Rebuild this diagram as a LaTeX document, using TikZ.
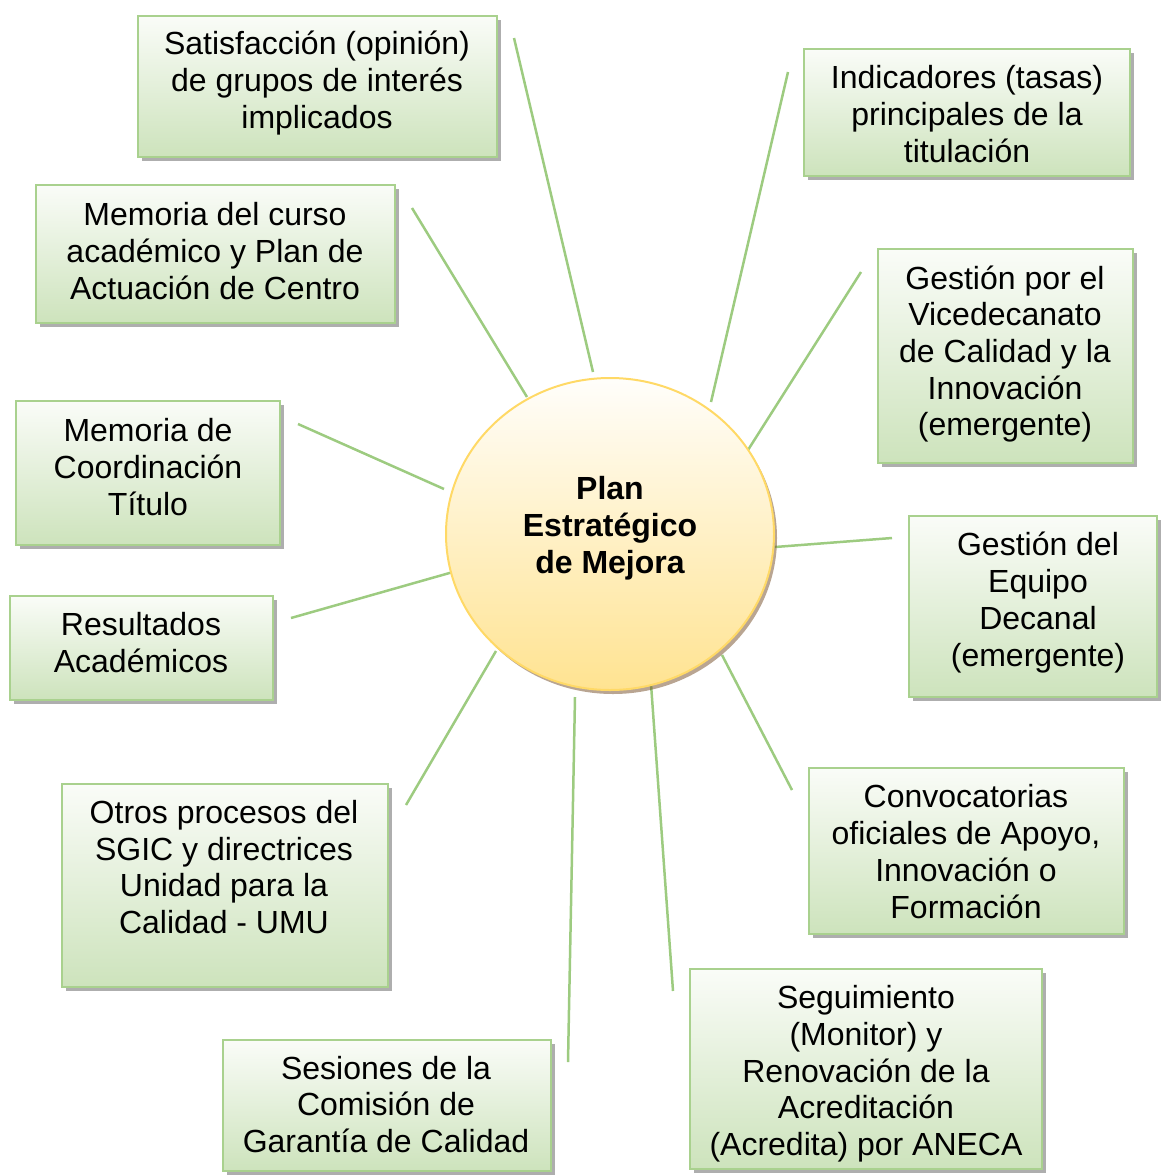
\documentclass[tikz,border=0pt]{standalone}
\usepackage{fontspec}
\setmainfont{Liberation Sans}
\usetikzlibrary{shadows,shapes.geometric}
\definecolor{boxborder}{HTML}{A9D18E}
\definecolor{boxbottom}{HTML}{CDE3BC}
\definecolor{boxtop}{HTML}{FAFCF8}
\definecolor{linkgreen}{HTML}{9DCB80}
\definecolor{circborder}{HTML}{FFD966}
\definecolor{circbottom}{HTML}{FFE391}
\definecolor{circtop}{HTML}{FFFEFB}
\tikzset{
  box/.style={rectangle, draw=boxborder, line width=2pt, top color=boxtop, bottom color=boxbottom,
    drop shadow={shadow xshift=3.5pt, shadow yshift=-3.5pt, fill=black!45, opacity=0.7}},
  txt/.style={align=center, font=\fontsize{32}{36.7}\selectfont, inner sep=0pt},
  link/.style={draw=linkgreen, line width=2.5pt},
  hub/.style={ellipse, draw=circborder, line width=2pt, top color=circtop, bottom color=circbottom,
    drop shadow={shadow xshift=3pt, shadow yshift=-4pt, fill=brown!60!black, opacity=0.5}}
}
\begin{document}
\begin{tikzpicture}[x=1pt,y=-1pt]
\useasboundingbox (0,0) rectangle (1160,1176);
% links (drawn first)
\coordinate (c1a) at (514,38);   \coordinate (c1b) at (593,372);
\coordinate (c2a) at (788,72);   \coordinate (c2b) at (711,402);
\coordinate (c3a) at (412,208);  \coordinate (c3b) at (527,397);
\coordinate (c4a) at (861,272);  \coordinate (c4b) at (748,450);
\coordinate (c5a) at (298,424);  \coordinate (c5b) at (444,489);
\coordinate (c6a) at (892,538);  \coordinate (c6b) at (775,547);
\coordinate (c7a) at (291,618);  \coordinate (c7b) at (453,572);
\coordinate (c8a) at (406,805);  \coordinate (c8b) at (496,651);
\coordinate (c9a) at (792,790);  \coordinate (c9b) at (722,655);
\coordinate (c10a) at (568,1062); \coordinate (c10b) at (575,697);
\coordinate (c11a) at (673,991); \coordinate (c11b) at (651,684);
\foreach \i in {1,...,11} { \draw[link] (c\i a) -- (c\i b); }
% hub
\node[hub, minimum width=328pt, minimum height=312pt] (hub) at (610,534) {};
\node[txt, font=\fontsize{32}{37}\selectfont\bfseries] (hubtxt) at (610,528) {Plan\\Estratégico\\de Mejora};
% boxes
\node[box, minimum width=359pt, minimum height=141pt] (b1) at (317.5,86.5) {};
\node[txt] (t1) at (317,83) {Satisfacción (opinión)\\de grupos de interés\\implicados};
\node[box, minimum width=326pt, minimum height=127pt] (b2) at (967,112.5) {};
\node[txt] (t2) at (967,114) {Indicadores (tasas)\\principales de la\\titulación};
\node[box, minimum width=359pt, minimum height=138pt] (b3) at (215.5,254) {};
\node[txt] (t3) at (215,251) {Memoria del curso\\académico y Plan de\\Actuación de Centro};
\node[box, minimum width=255pt, minimum height=214pt] (b4) at (1005.5,356) {};
\node[txt] (t4) at (1005,354) {Gestión por el\\Vicedecanato\\de Calidad y la\\Innovación\\(emergente)};
\node[box, minimum width=264pt, minimum height=144pt] (b5) at (148,473) {};
\node[txt] (t5) at (148,467) {Memoria de\\Coordinación\\Título};
\node[box, minimum width=248pt, minimum height=181pt] (b6) at (1033,606.5) {};
\node[txt] (t6) at (1038,602.5) {Gestión del\\Equipo\\Decanal\\(emergente)};
\node[box, minimum width=263pt, minimum height=104pt] (b7) at (141.5,648) {};
\node[txt] (t7) at (141,642.5) {Resultados\\Académicos};
\node[box, minimum width=326pt, minimum height=203pt] (b8) at (225,885.5) {};
\node[txt] (t8) at (224,867) {Otros procesos del\\SGIC y directrices\\Unidad para la\\Calidad - UMU};
\node[box, minimum width=315pt, minimum height=166pt] (b9) at (966.5,851) {};
\node[txt] (t9) at (966,851.5) {Convocatorias\\oficiales de Apoyo,\\Innovación o\\Formación};
\node[box, minimum width=328pt, minimum height=131pt] (b10) at (387,1105.5) {};
\node[txt] (t10) at (386,1104.5) {Sesiones de la\\Comisión de\\Garantía de Calidad};
\node[box, minimum width=352pt, minimum height=200pt] (b11) at (866,1069) {};
\node[txt] (t11) at (866,1074) {Seguimiento\\(Monitor) y\\Renovación de la\\Acreditación\\(Acredita) por ANECA};
\end{tikzpicture}
\end{document}
